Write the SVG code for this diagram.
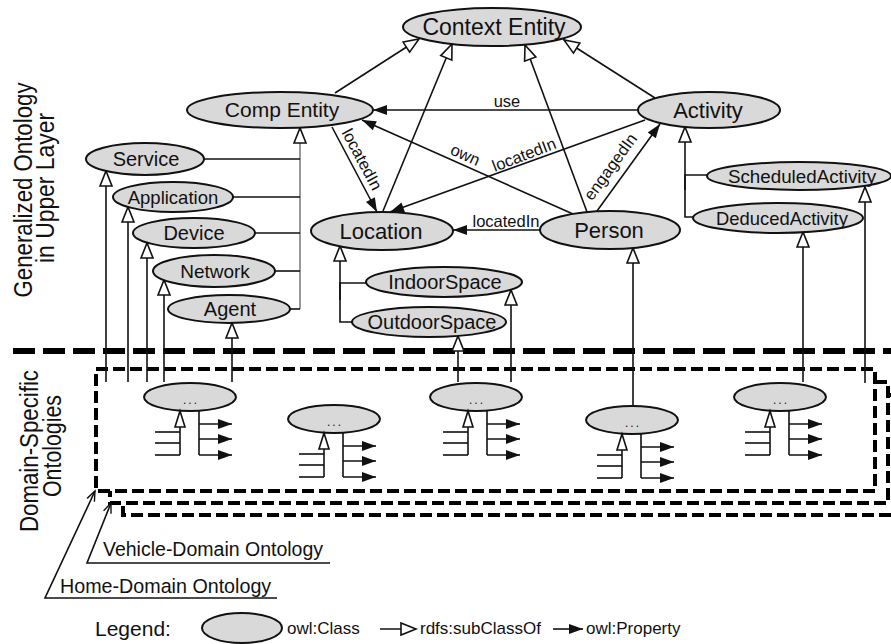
<svg xmlns="http://www.w3.org/2000/svg" xmlns:xlink="http://www.w3.org/1999/xlink" width="891" height="644" viewBox="0 0 891 644">
<style>
text{font-family:"Liberation Sans",Arial,sans-serif;fill:#111}
.cls{fill:#d9d9d9;stroke:#111;stroke-width:2}
.ln{stroke:#111;stroke-width:1.6;fill:none}
.gr{stroke:#777;stroke-width:1.5;fill:none}
.sub{marker-end:url(#tri)}
.prop{marker-end:url(#arr)}
.nm{text-anchor:middle}
.lbl{font-size:16.5px}
.box{fill:#fff;stroke:#000;stroke-width:4;stroke-dasharray:12 5}
.side{font-size:26px;text-anchor:middle}
</style>
<defs>
<marker id="tri" markerUnits="userSpaceOnUse" markerWidth="18" markerHeight="16" refX="16" refY="7" orient="auto" overflow="visible"><path d="M1,1 L16,7 L1,13 z" fill="#fff" stroke="#111" stroke-width="1.6"/></marker>
<marker id="arr" markerUnits="userSpaceOnUse" markerWidth="16" markerHeight="12" refX="14" refY="5" orient="auto" overflow="visible"><path d="M0,0 L14,5 L0,10 z" fill="#111"/></marker>
<marker id="v" markerUnits="userSpaceOnUse" markerWidth="12" markerHeight="10" refX="10" refY="4" orient="auto" overflow="visible"><path d="M0,0 L10,4 L0,8" fill="none" stroke="#111" stroke-width="1.4"/></marker>
<g id="dsub">
<line class="ln" x1="-10" y1="30" x2="-10" y2="58"/>
<line class="ln" x1="-35" y1="35" x2="-10" y2="35"/>
<line class="ln" x1="-35" y1="46" x2="-10" y2="46"/>
<line class="ln" x1="-35" y1="58" x2="-10" y2="58"/>
<path d="M-10,14 L-5,30 L-15,30 z" fill="#fff" stroke="#111" stroke-width="1.6"/>
<line class="ln" x1="9" y1="13" x2="9" y2="58"/>
<line class="ln prop" x1="9" y1="27" x2="42" y2="27"/>
<line class="ln prop" x1="9" y1="42" x2="42" y2="42"/>
<line class="ln prop" x1="9" y1="58" x2="42" y2="58"/>
</g>
</defs>
<rect width="891" height="644" fill="#fff"/>

<!-- side labels -->
<g id="side-labels">
<text class="side" transform="translate(32,190) rotate(-90)" textLength="215" lengthAdjust="spacingAndGlyphs">Generalized Ontology</text>
<text class="side" transform="translate(54,188) rotate(-90)" textLength="150" lengthAdjust="spacingAndGlyphs">in Upper Layer</text>
<text class="side" transform="translate(38,451) rotate(-90)" textLength="162" lengthAdjust="spacingAndGlyphs">Domain-Specific</text>
<text class="side" transform="translate(61,446) rotate(-90)" textLength="102" lengthAdjust="spacingAndGlyphs">Ontologies</text>
</g>

<!-- domain boxes -->
<g id="domain-boxes">
<line x1="13" y1="351" x2="891" y2="351" stroke="#000" stroke-width="6" stroke-dasharray="22 8"/>
<rect class="box" x="123" y="395" width="800" height="120"/>
<rect class="box" x="110" y="382" width="778" height="121"/>
<rect class="box" x="96" y="369" width="779" height="122"/>
</g>

<g id="connectors">
<!-- subclass to Context Entity -->
<line class="ln sub" x1="335" y1="93" x2="419" y2="39"/>
<line class="ln sub" x1="383" y1="211" x2="452" y2="44"/>
<line class="ln sub" x1="587" y1="212" x2="525" y2="45"/>
<line class="ln sub" x1="655" y1="98" x2="564" y2="40"/>
<!-- Comp Entity subclasses -->
<line class="gr sub" x1="300" y1="309" x2="300" y2="128"/>
<line class="ln" x1="204" y1="159" x2="300" y2="159"/>
<line class="ln" x1="233" y1="197" x2="300" y2="197"/>
<line class="ln" x1="255" y1="233" x2="300" y2="233"/>
<line class="ln" x1="275" y1="271" x2="300" y2="271"/>
<line class="ln" x1="290" y1="309" x2="300" y2="309"/>
<!-- Location subclasses -->
<polyline class="ln" points="352,322 340,322 340,283 367,283"/>
<line class="ln sub" x1="340" y1="300" x2="340" y2="246"/>
<!-- Activity subclasses -->
<polyline class="ln" points="693,217 685,217 685,175 707,175"/>
<line class="ln sub" x1="685" y1="190" x2="685" y2="127"/>
<!-- properties -->
<line class="ln prop" x1="638" y1="110" x2="373" y2="110"/>
<line class="ln prop" x1="573" y1="214" x2="362" y2="120"/>
<line class="ln prop" x1="645" y1="120" x2="390" y2="212"/>
<line class="ln prop" x1="332" y1="127" x2="377" y2="212"/>
<line class="ln prop" x1="540" y1="230" x2="453" y2="230"/>
<line class="ln prop" x1="597" y1="211" x2="660" y2="124"/>
<!-- domain links up -->
<line class="ln sub" x1="106" y1="382" x2="106" y2="171"/>
<line class="ln sub" x1="128" y1="382" x2="128" y2="207"/>
<line class="ln sub" x1="147" y1="382" x2="147" y2="243"/>
<line class="ln sub" x1="164" y1="382" x2="164" y2="280"/>
<line class="ln sub" x1="232" y1="382" x2="232" y2="323"/>
<line class="ln sub" x1="458" y1="382" x2="458" y2="336"/>
<line class="ln sub" x1="511" y1="382" x2="511" y2="290"/>
<line class="ln sub" x1="633" y1="406" x2="633" y2="248"/>
<line class="ln sub" x1="803" y1="382" x2="803" y2="232"/>
<line class="ln sub" x1="865" y1="383" x2="865" y2="187"/>
<!-- ontology labels -->
<polyline class="ln" points="330,563 87,563 111,503" marker-end="url(#v)"/>
<polyline class="ln" points="277,598 45,598 95,491" marker-end="url(#v)"/>
<!-- property labels -->
<text class="lbl nm" x="507" y="107">use</text>
<text class="lbl nm" transform="translate(463,160) rotate(24)">own</text>
<text class="lbl nm" transform="translate(526,160) rotate(-21)">locatedIn</text>
<text class="lbl nm" transform="translate(357,162) rotate(62)">locatedIn</text>
<text class="lbl nm" x="506" y="227">locatedIn</text>
<text class="lbl nm" transform="translate(615,170) rotate(-54)">engagedIn</text>
</g>

<g id="context-entity"><ellipse class="cls" cx="492" cy="27" rx="89" ry="19"/><text class="nm" x="494" y="35" font-size="23">Context Entity</text></g>
<g id="comp-entity"><ellipse class="cls" cx="280" cy="110" rx="93" ry="18"/><text class="nm" x="282" y="117" font-size="21">Comp Entity</text></g>
<g id="activity"><ellipse class="cls" cx="709" cy="110" rx="71" ry="18"/><text class="nm" x="708" y="118" font-size="22">Activity</text></g>
<g id="service"><ellipse class="cls" cx="145" cy="159" rx="59" ry="16"/><text class="nm" x="146" y="166" font-size="20">Service</text></g>
<g id="application"><ellipse class="cls" cx="173" cy="197" rx="60" ry="15"/><text class="nm" x="173" y="204" font-size="18.5">Application</text></g>
<g id="device"><ellipse class="cls" cx="194" cy="233" rx="61" ry="15"/><text class="nm" x="194" y="240" font-size="20">Device</text></g>
<g id="network"><ellipse class="cls" cx="214" cy="271" rx="61" ry="16"/><text class="nm" x="215" y="278" font-size="19">Network</text></g>
<g id="agent"><ellipse class="cls" cx="229" cy="309" rx="61" ry="14"/><text class="nm" x="230" y="316" font-size="20">Agent</text></g>
<g id="location"><ellipse class="cls" cx="382" cy="231" rx="71" ry="19"/><text class="nm" x="381" y="239" font-size="22">Location</text></g>
<g id="person"><ellipse class="cls" cx="610" cy="230" rx="70" ry="19"/><text class="nm" x="609" y="238" font-size="22">Person</text></g>
<g id="indoorspace"><ellipse class="cls" cx="444" cy="282" rx="78" ry="15"/><text class="nm" x="445" y="289" font-size="20">IndoorSpace</text></g>
<g id="outdoorspace"><ellipse class="cls" cx="429" cy="322" rx="77" ry="15"/><text class="nm" x="432" y="329" font-size="20">OutdoorSpace</text></g>
<g id="scheduledactivity"><ellipse class="cls" cx="799" cy="176" rx="92" ry="14"/><text class="nm" x="802" y="183" font-size="18.8">ScheduledActivity</text></g>
<g id="deducedactivity"><ellipse class="cls" cx="778" cy="218" rx="85" ry="15"/><text class="nm" x="782" y="225" font-size="18.4">DeducedActivity</text></g>

<g id="domain-1"><ellipse class="cls" cx="190" cy="397" rx="46" ry="14"/><text class="nm" x="191" y="404" font-size="12" letter-spacing="2">...</text><use xlink:href="#dsub" href="#dsub" x="190" y="397"/></g>
<g id="domain-2"><ellipse class="cls" cx="334" cy="419" rx="46" ry="14"/><text class="nm" x="335" y="426" font-size="12" letter-spacing="2">...</text><use xlink:href="#dsub" href="#dsub" x="334" y="419"/></g>
<g id="domain-3"><ellipse class="cls" cx="476" cy="397" rx="46" ry="14"/><text class="nm" x="477" y="404" font-size="12" letter-spacing="2">...</text><use xlink:href="#dsub" href="#dsub" x="478" y="397"/></g>
<g id="domain-4"><ellipse class="cls" cx="632" cy="420" rx="46" ry="14"/><text class="nm" x="633" y="427" font-size="12" letter-spacing="2">...</text><use xlink:href="#dsub" href="#dsub" x="632" y="420"/></g>
<g id="domain-5"><ellipse class="cls" cx="780" cy="397" rx="46" ry="14"/><text class="nm" x="781" y="404" font-size="12" letter-spacing="2">...</text><use xlink:href="#dsub" href="#dsub" x="780" y="397"/></g>

<g id="ontology-labels">
<text x="103" y="556" font-size="19.5">Vehicle-Domain Ontology</text>
<text x="60" y="593" font-size="19.7">Home-Domain Ontology</text>
</g>

<g id="legend">
<text x="95" y="636" font-size="21">Legend:</text>
<ellipse class="cls" cx="242" cy="628" rx="40" ry="15"/>
<text x="287" y="634" font-size="17">owl:Class</text>
<line class="ln sub" x1="380" y1="629" x2="416" y2="629"/>
<text x="420" y="634" font-size="17">rdfs:subClassOf</text>
<line class="ln prop" x1="553" y1="629" x2="583" y2="629"/>
<text x="586" y="634" font-size="17">owl:Property</text>
</g>
</svg>
